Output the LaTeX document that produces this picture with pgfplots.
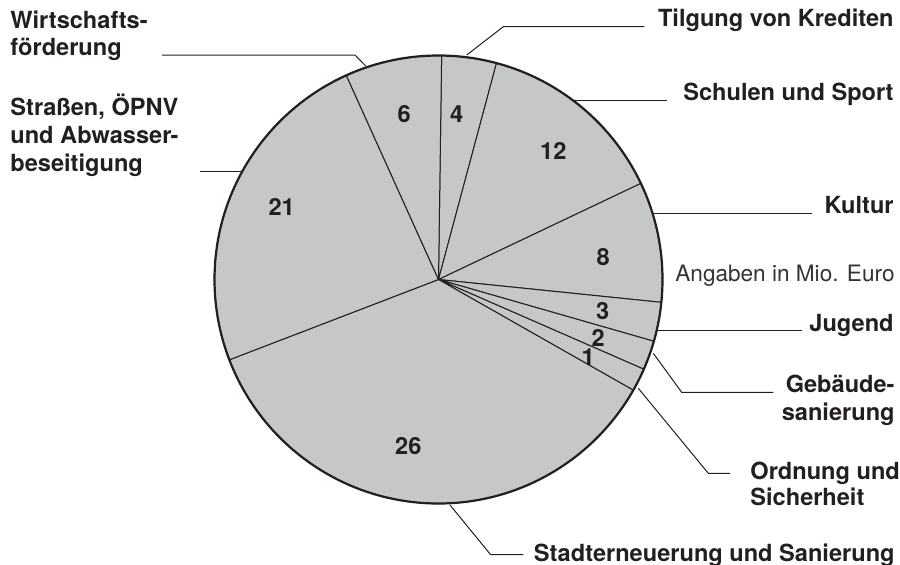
\documentclass[border=0pt]{standalone}
\usepackage{fontspec}
\setmainfont{TeX Gyre Heros}
\usepackage{pgfplots}
\usepackage{pgfplotstable}
\pgfplotsset{compat=1.18}
\definecolor{piefill}{RGB}{198,199,201}
\definecolor{pieline}{RGB}{35,31,32}
\definecolor{txt}{RGB}{35,31,32}

% value, start/end angle of the slice (degrees), label position (px)
\pgfplotstableread{
val  start   end     lx     ly
4    89.2    75.0    456.7  114
12   75.0    25.4    553.3  150.7
8    25.4    -5.85   603.3  256.7
3    -5.85   -16.0   602.7  310.7
2    -16.0   -23.6   598.3  338.3
1    -23.6   -29.6   588.3  357.3
26   -29.6   -159.0  408.3  446
21   -159.0  -245.7  281.7  206.7
6    -245.7  -270.8  404.3  114
}\pietable

\newcommand\lbl{\bfseries\fontsize{11.8}{14}\selectfont}
\tikzset{
  leader/.style={draw=pieline, line width=0.5pt},
  lab/.style={font=\lbl, text=txt, inner sep=0pt},
}

\begin{document}
\begin{tikzpicture}
\begin{axis}[
  x=0.5pt, y=0.5pt, xmin=0, xmax=900, ymin=0, ymax=564, y dir=reverse,
  hide axis, clip=false,
]
\pgfplotstablegetrowsof{\pietable}
\pgfmathtruncatemacro\lastrow{\pgfplotsretval-1}
\foreach \i in {0,...,\lastrow}{
  \pgfplotstablegetelem{\i}{start}\of\pietable \let\sa\pgfplotsretval
  \pgfplotstablegetelem{\i}{end}\of\pietable \let\ea\pgfplotsretval
  \edef\temp{\noexpand\filldraw[fill=piefill,draw=pieline,line width=0.5pt,line join=round]
    (axis cs:438.5,279.5) -- ++(\sa:112pt) arc[start angle=\sa,end angle=\ea,radius=112pt] -- cycle;}
  \temp
}
\draw[pieline, line width=1.1pt] (axis cs:438.5,279.5) circle[radius=112pt];

\addplot[draw=none, mark=none, nodes near coords, point meta=explicit symbolic,
  every node near coord/.append style={anchor=center, font=\lbl, text=txt, inner sep=0pt}]
  table[x=lx, y=ly, meta=val] {\pietable};

% leader lines
\draw[leader] (axis cs:162,55) -- (axis cs:355,55) -- (axis cs:365.7,66);
\draw[leader] (axis cs:200,171.5) -- (axis cs:242,171.5);
\draw[leader] (axis cs:466.7,55) -- (axis cs:503.3,26.7) -- (axis cs:644.3,26.7);
\draw[leader] (axis cs:573,100) -- (axis cs:667.3,100);
\draw[leader] (axis cs:653,213.3) -- (axis cs:812.3,213.3);
\draw[leader] (axis cs:657,330.7) -- (axis cs:801.7,330.7);
\draw[leader] (axis cs:653.3,353.3) -- (axis cs:681.7,392.3) -- (axis cs:773.3,392.3);
\draw[leader] (axis cs:638.3,388.3) -- (axis cs:708.3,473.3) -- (axis cs:730,473.3);
\draw[leader] (axis cs:450,505) -- (axis cs:490.5,554.5) -- (axis cs:523.3,554.5);

% category labels
\node[lab, anchor=base west] at (axis cs:10,28.3) {Wirtschafts-};
\node[lab, anchor=base west] at (axis cs:10,55) {förderung};
\node[lab, anchor=base west] at (axis cs:10,115) {Straßen, ÖPNV};
\node[lab, anchor=base west] at (axis cs:10,143.3) {und Abwasser-};
\node[lab, anchor=base west] at (axis cs:10,171.7) {beseitigung};
\node[lab, anchor=base east] at (axis cs:894,26.7) {Tilgung von Krediten};
\node[lab, anchor=base east] at (axis cs:894,100.7) {Schulen und Sport};
\node[lab, anchor=base east] at (axis cs:894,213.3) {Kultur};
\node[font=\fontsize{11.3}{13}\selectfont, text=black!80, inner sep=0pt, anchor=base east] at (axis cs:895,281.7) {Angaben in Mio. Euro};
\node[lab, anchor=base east] at (axis cs:894,331.5) {Jugend};
\node[lab, anchor=base east] at (axis cs:895,392.3) {Gebäude-};
\node[lab, anchor=base east] at (axis cs:895,420.5) {sanierung};
\node[lab, anchor=base west] at (axis cs:750,479) {Ordnung und};
\node[lab, anchor=base west] at (axis cs:750,505.5) {Sicherheit};
\node[lab, anchor=base east] at (axis cs:895,561) {Stadterneuerung und Sanierung};

\coordinate (BL) at (axis cs:0,564);
\coordinate (TR) at (axis cs:900,0);
\end{axis}
\pgfresetboundingbox
\path (BL) rectangle (TR);
\end{tikzpicture}
\end{document}
